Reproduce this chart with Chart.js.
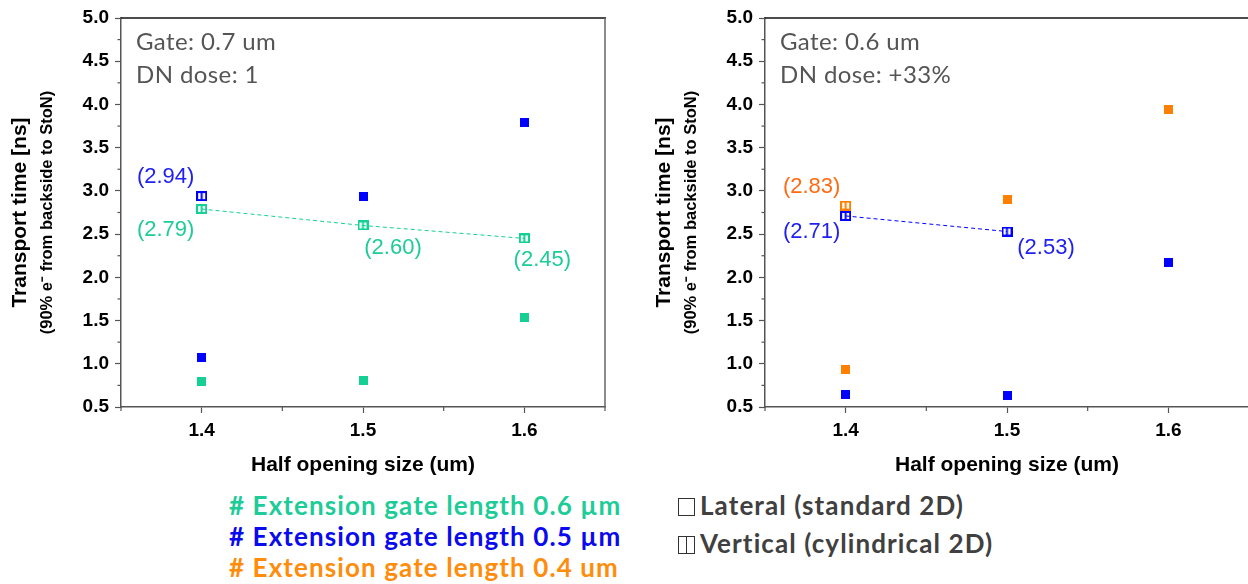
<!DOCTYPE html>
<html lang="en">

<head>
    <meta charset="UTF-8" />
    <title>Transport time vs half opening size</title>
    <script src="https://cdn.jsdelivr.net/npm/chart.js"></script>
    <style>
        body {
            background-color: #ffffff;
            margin: 0;
            width: 1248px;
            height: 584px;
            overflow: hidden;
            position: relative;
            font-family: Lato, "Open Sans", sans-serif;
        }

        .panel {
            position: absolute;
            top: 0;
            width: 620px;
            height: 480px;
        }

        #left-panel { left: 0; }
        #right-panel { left: 644px; }

        .legend-line {
            position: absolute;
            white-space: nowrap;
            font-weight: bold;
            font-size: 26px;
            line-height: 30px;
            letter-spacing: 1.1px;
        }

        .box {
            display: inline-block;
            width: 15px;
            height: 16px;
            border: 1.5px solid #333;
            margin-right: 5px;
            vertical-align: -1px;
            position: relative;
        }

        .box.split::after {
            content: "";
            position: absolute;
            left: 6.5px;
            top: 0;
            width: 1.5px;
            height: 16px;
            background: #333;
        }
    </style>
</head>

<body>
    <div class="panel" id="left-panel"><canvas id="leftChart" width="620" height="480"></canvas></div>
    <div class="panel" id="right-panel"><canvas id="rightChart" width="620" height="480"></canvas></div>

    <div class="legend-line" style="left:229px; top:490px; color:#1ECC98;"># Extension gate length 0.6 µm</div>
    <div class="legend-line" style="left:229px; top:521px; color:#0A0AEE;"># Extension gate length 0.5 µm</div>
    <div class="legend-line" style="left:229px; top:552px; color:#FF8C0A;"># Extension gate length 0.4 um</div>
    <div class="legend-line" style="left:678px; top:490px; color:#404040;"><span class="box"></span>Lateral (standard 2D)</div>
    <div class="legend-line" style="left:678px; top:528px; color:#404040;"><span class="box split"></span>Vertical (cylindrical 2D)</div>

    <script>
        // x positions (half opening size, um)
        const xValues = [1.4, 1.5, 1.6];
        const xTickValues = [1.4, 1.5, 1.6];
        const yTickValues = [0.5, 1.0, 1.5, 2.0, 2.5, 3.0, 3.5, 4.0, 4.5, 5.0];

        // left panel: Gate 0.7 um, DN dose 1
        const leftLateral06 = [0.80, 0.81, 1.54];
        const leftLateral05 = [1.07, 2.93, 3.79];
        const leftVertical06 = [2.79, 2.60, 2.45];
        const leftVertical05 = [2.94];

        // right panel: Gate 0.6 um, DN dose +33%
        const rightLateral04 = [0.93, 2.90, 3.94];
        const rightLateral05 = [0.65, 0.63, 2.17];
        const rightVertical04 = [2.83];
        const rightVertical05 = [2.71, 2.53];

        const GREEN = '#14D094';
        const BLUE = '#0000FF';
        const ORANGE = '#FF8000';
        const AXIS_FONT = '"Liberation Sans", Arial, sans-serif';

        function pts(ys) {
            return ys.map((y, i) => ({ x: xValues[i], y: y }));
        }

        function filledMarker(color) {
            const c = document.createElement('canvas');
            c.width = 9; c.height = 9;
            const g = c.getContext('2d');
            g.fillStyle = color;
            g.fillRect(0, 0, 9, 9);
            return c;
        }

        function verticalMarker(color) {
            const c = document.createElement('canvas');
            c.width = 11; c.height = 10;
            const g = c.getContext('2d');
            g.strokeStyle = color;
            g.lineWidth = 2;
            g.strokeRect(1, 1, 9, 8);
            g.beginPath();
            g.moveTo(5.5, 1);
            g.lineTo(5.5, 9);
            g.stroke();
            return c;
        }

        function lateral(ys, color) {
            return {
                data: pts(ys),
                pointStyle: filledMarker(color),
                pointRadius: 5,
                pointHoverRadius: 5,
                showLine: false
            };
        }

        function vertical(ys, color, labelColor, offsets) {
            return {
                data: pts(ys),
                pointStyle: verticalMarker(color),
                pointRadius: 5,
                pointHoverRadius: 5,
                showLine: ys.length > 1,
                borderColor: color,
                borderWidth: 1,
                borderDash: [4, 3],
                labelColor: labelColor,
                labelOffsets: offsets
            };
        }

        // frame, minor ticks, axis titles, notes and value labels
        const decorations = {
            id: 'decorations',
            afterDraw(chart) {
                const ctx = chart.ctx;
                const a = chart.chartArea;
                const xs = chart.scales.x, ys = chart.scales.y;
                ctx.save();

                // top and right frame
                ctx.lineWidth = 1.5;
                ctx.strokeStyle = '#111';
                ctx.beginPath();
                ctx.moveTo(a.left, a.top);
                ctx.lineTo(a.right + 1, a.top);
                ctx.stroke();
                ctx.strokeStyle = '#666';
                ctx.beginPath();
                ctx.moveTo(a.right, a.top);
                ctx.lineTo(a.right, a.bottom);
                ctx.stroke();

                // minor ticks
                ctx.strokeStyle = '#555';
                ctx.lineWidth = 1.2;
                for (let v = 0.75; v < 5; v += 0.5) {
                    const py = ys.getPixelForValue(v);
                    ctx.beginPath();
                    ctx.moveTo(a.left - 3.5, py);
                    ctx.lineTo(a.left, py);
                    ctx.stroke();
                }
                for (const v of [1.35, 1.45, 1.55, 1.65]) {
                    const px = xs.getPixelForValue(v);
                    ctx.beginPath();
                    ctx.moveTo(px, a.bottom);
                    ctx.lineTo(px, a.bottom + 4);
                    ctx.stroke();
                }

                // axis titles
                ctx.fillStyle = '#000';
                ctx.textAlign = 'center';
                ctx.textBaseline = 'middle';
                ctx.font = 'bold 21px ' + AXIS_FONT;
                ctx.fillText('Half opening size (um)', (a.left + a.right) / 2, 465);

                const cy = (a.top + a.bottom) / 2;
                ctx.save();
                ctx.translate(a.left - 101, cy);
                ctx.rotate(-Math.PI / 2);
                ctx.font = 'bold 21px ' + AXIS_FONT;
                ctx.fillText('Transport time [ns]', 0, 0);
                ctx.restore();
                ctx.save();
                ctx.translate(a.left - 74, cy);
                ctx.rotate(-Math.PI / 2);
                ctx.font = 'bold 16.5px ' + AXIS_FONT;
                ctx.fillText('(90% e\u207B from backside to StoN)', 0, 0);
                ctx.restore();

                // notes
                const notes = chart.options.plugins.decorations.notes;
                ctx.fillStyle = '#555';
                ctx.textAlign = 'left';
                ctx.font = '24px Lato, sans-serif';
                ctx.letterSpacing = '0.4px';
                notes.forEach((t, i) => ctx.fillText(t, a.left + 15, 42 + i * 33));
                ctx.letterSpacing = '0px';

                // value labels next to the vertical points
                ctx.font = '22px ' + AXIS_FONT;
                ctx.textAlign = 'center';
                chart.data.datasets.forEach((ds, di) => {
                    if (!ds.labelOffsets) return;
                    const meta = chart.getDatasetMeta(di);
                    ctx.fillStyle = ds.labelColor;
                    meta.data.forEach((el, i) => {
                        const off = ds.labelOffsets[i];
                        ctx.fillText('(' + ds.data[i].y.toFixed(2) + ')', el.x + off[0], el.y + off[1]);
                    });
                });

                ctx.restore();
            }
        };

        function makeChart(id, datasets, notes) {
            return new Chart(document.getElementById(id), {
                type: 'scatter',
                data: { datasets: datasets },
                options: {
                    responsive: false,
                    animation: false,
                    layout: { padding: { top: 18, right: 15, left: 0, bottom: 0 } },
                    plugins: {
                        legend: { display: false },
                        tooltip: { enabled: false },
                        decorations: { notes: notes }
                    },
                    scales: {
                        x: {
                            type: 'linear',
                            min: 1.35,
                            max: 1.65,
                            afterBuildTicks: s => { s.ticks = xTickValues.map(v => ({ value: v })); },
                            afterFit: s => { s.height = 73; },
                            grid: { drawOnChartArea: false, tickLength: 6, tickColor: '#555', tickWidth: 1.2 },
                            border: { color: '#555', width: 1.5 },
                            ticks: {
                                padding: 6,
                                color: '#000',
                                font: { family: AXIS_FONT, size: 19, weight: 'bold' },
                                callback: v => v.toFixed(1)
                            }
                        },
                        y: {
                            min: 0.5,
                            max: 5.0,
                            afterBuildTicks: s => { s.ticks = yTickValues.map(v => ({ value: v })); },
                            afterFit: s => { s.width = 121; },
                            grid: { drawOnChartArea: false, tickLength: 6, tickColor: '#555', tickWidth: 1.2 },
                            border: { color: '#555', width: 1.5 },
                            ticks: {
                                padding: 6,
                                color: '#000',
                                font: { family: AXIS_FONT, size: 19, weight: 'bold' },
                                callback: v => v.toFixed(1)
                            }
                        }
                    }
                },
                plugins: [decorations]
            });
        }

        makeChart('leftChart', [
            vertical(leftVertical05, BLUE, '#2020F0', [[-36, -19]]),
            vertical(leftVertical06, GREEN, '#1ECC98', [[-36, 21], [30, 22], [18, 22]]),
            lateral(leftLateral06, GREEN),
            lateral(leftLateral05, BLUE)
        ], ['Gate: 0.7 um', 'DN dose: 1']);

        makeChart('rightChart', [
            vertical(rightVertical04, ORANGE, '#FF6A10', [[-34, -19]]),
            vertical(rightVertical05, BLUE, '#2020F0', [[-34, 16], [39, 16]]),
            lateral(rightLateral04, ORANGE),
            lateral(rightLateral05, BLUE)
        ], ['Gate: 0.6 um', 'DN dose: +33%']);
    </script>
</body>

</html>
